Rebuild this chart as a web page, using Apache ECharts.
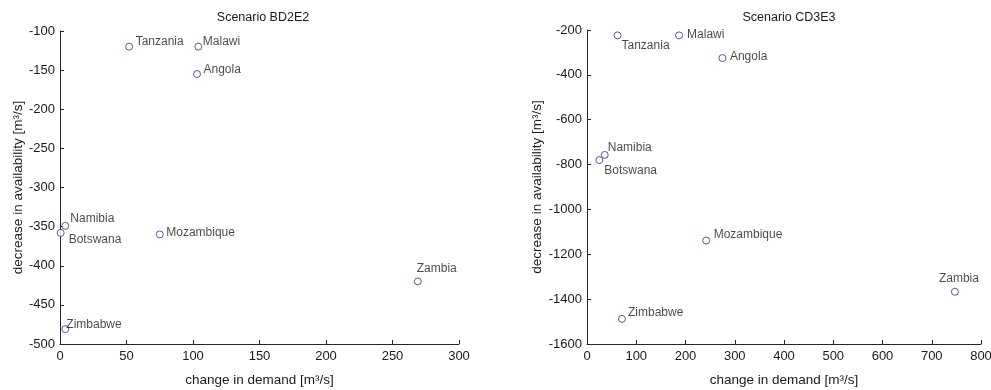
<!DOCTYPE html>
<html>
<head>
<meta charset="utf-8">
<script src="https://cdn.jsdelivr.net/npm/echarts@6/dist/echarts.min.js"></script>
<style>html,body{margin:0;padding:0;background:#fff;}#c{width:991px;height:390px;}</style>
</head>
<body>
<div id="c"></div>
<script>
// ---- data ----
var countries = ['Tanzania','Malawi','Angola','Namibia','Botswana','Mozambique','Zimbabwe','Zambia'];
var bdDemand = [52, 104, 103, 4, 0.5, 75, 4, 269];
var bdAvail  = [-120, -120, -155, -349, -358, -360, -481, -420];
var cdDemand = [62, 187, 275, 36, 25, 242, 71, 747];
var cdAvail  = [-224, -224, -325, -757, -780, -1139, -1488, -1367];
var bdTicksX = [0, 50, 100, 150, 200, 250, 300];
var bdTicksY = [-500, -450, -400, -350, -300, -250, -200, -150, -100];
var cdTicksX = [0, 100, 200, 300, 400, 500, 600, 700, 800];
var cdTicksY = [-1600, -1400, -1200, -1000, -800, -600, -400, -200];

// label placement (styling only)
var bdLabelPos = [
  ['right', [-0.5,-5]], ['right', [-2.5,-5]], ['right', [-0.5,-4]], ['right', [-2,-7]],
  ['right', [1,7]], ['right', [-0.5,-2]], ['right', [-6,-4]], ['top', [19,0]]
];
var cdLabelPos = [
  ['bottom', [28,-3]], ['right', [1,-1]], ['right', [0.5,-1]], ['right', [-4,-7]],
  ['right', [-2,11]], ['right', [0.5,-6]], ['right', [-1,-6]], ['top', [4,0]]
];

var FONT = 'Liberation Sans';
var AX = '#262626';
var TXT = '#1a1a1a';
var MARK = '#2e2e8c';

function buildData(xs, ys, pos) {
  return countries.map(function (c, i) {
    return {
      name: c,
      value: [xs[i], ys[i]],
      label: { show: true, position: pos[i][0], offset: pos[i][1], distance: 3, formatter: c }
    };
  });
}

function axisCommon(ticks, gridIndex) {
  return {
    type: 'value',
    gridIndex: gridIndex,
    min: ticks[0],
    max: ticks[ticks.length - 1],
    interval: ticks[1] - ticks[0],
    splitLine: { show: false },
    axisLine: { show: true, onZero: false, lineStyle: { color: AX, width: 1 } },
    axisTick: { show: true, inside: true, length: 4, lineStyle: { color: AX } },
    axisLabel: { color: TXT, fontFamily: FONT, fontSize: 13, formatter: function (v) { return String(v); } },
    nameTextStyle: { color: TXT, fontFamily: FONT, fontSize: 13.5 }
  };
}

var chart = echarts.init(document.getElementById('c'), null, { renderer: 'canvas' });

var xa0 = axisCommon(bdTicksX, 0);
xa0.name = 'change in demand [m³/s]'; xa0.nameLocation = 'middle'; xa0.nameGap = 29;
xa0.axisLabel.margin = 6;
var xa1 = axisCommon(cdTicksX, 1);
xa1.name = 'change in demand [m³/s]'; xa1.nameLocation = 'middle'; xa1.nameGap = 29;
xa1.axisLabel.margin = 6;
var ya0 = axisCommon(bdTicksY, 0);
ya0.name = 'decrease in availability [m³/s]'; ya0.nameLocation = 'middle'; ya0.nameGap = 35; ya0.nameRotate = 90;
ya0.axisLabel.margin = 5;
var ya1 = axisCommon(cdTicksY, 1);
ya1.name = 'decrease in availability [m³/s]'; ya1.nameLocation = 'middle'; ya1.nameGap = 43; ya1.nameRotate = 90;
ya1.axisLabel.margin = 5;

var seriesCommon = {
  type: 'scatter',
  symbol: 'circle',
  symbolSize: 7,
  itemStyle: { color: '#fff', borderColor: MARK, borderWidth: 1 },
  label: { color: TXT, fontFamily: FONT, fontSize: 12 },
  emphasis: { disabled: true },
  animation: false
};

chart.setOption({
  backgroundColor: '#fff',
  animation: false,
  title: [
    { text: 'Scenario BD2E2', left: 258, top: 6, textAlign: 'center',
      textStyle: { fontFamily: FONT, fontSize: 12.5, fontWeight: 'normal', color: TXT } },
    { text: 'Scenario CD3E3', left: 784, top: 6, textAlign: 'center',
      textStyle: { fontFamily: FONT, fontSize: 12.5, fontWeight: 'normal', color: TXT } }
  ],
  grid: [
    { left: 60, right: 532, top: 31, bottom: 46, containLabel: false, outerBoundsMode: 'none' },
    { left: 587, right: 10, top: 30, bottom: 46, containLabel: false, outerBoundsMode: 'none' }
  ],
  xAxis: [xa0, xa1],
  yAxis: [ya0, ya1],
  series: [
    Object.assign({}, seriesCommon, { xAxisIndex: 0, yAxisIndex: 0, data: buildData(bdDemand, bdAvail, bdLabelPos) }),
    Object.assign({}, seriesCommon, { xAxisIndex: 1, yAxisIndex: 1, data: buildData(cdDemand, cdAvail, cdLabelPos) })
  ]
});
</script>
</body>
</html>
